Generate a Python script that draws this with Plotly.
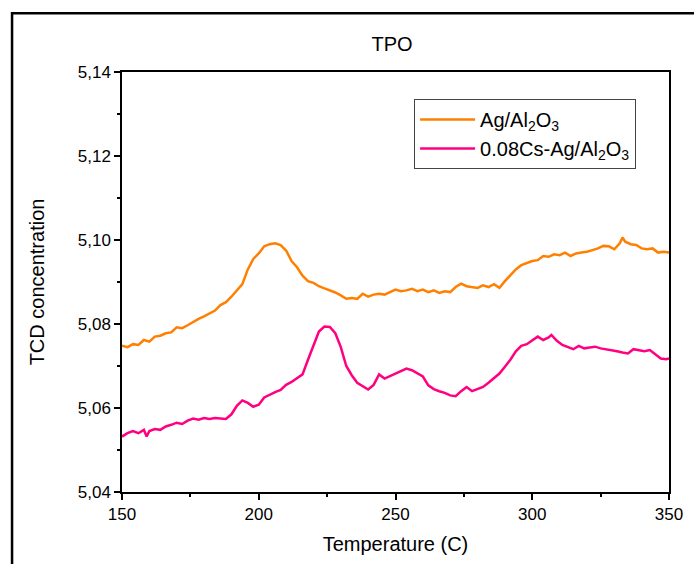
import plotly.graph_objects as go

temp_ag = [150,152,154,156,158,160,162,164,166,168,170,172,174,176,178,180,182,184,186,188,
           190,192,194,196,198,200,202,204,206,208,210,212,214,216,218,220,222,224,226,228,
           230,232,234,236,238,240,242,244,246,248,250,252,254,256,258,260,262,264,266,268,
           270,272,274,276,278,280,282,284,286,288,290,292,294,296,298,300,302,304,306,308,
           310,312,314,316,318,320,322,324,326,328,330,332,333,334,336,338,340,342,344,346,
           348,350]
tcd_ag = [5.0748,5.0745,5.0752,5.0750,5.0762,5.0758,5.0770,5.0772,5.0778,5.0780,
          5.0792,5.0790,5.0797,5.0805,5.0812,5.0818,5.0826,5.0832,5.0845,5.0852,
          5.0865,5.0880,5.0895,5.0930,5.0955,5.0968,5.0985,5.0990,5.0992,5.0988,
          5.0975,5.0950,5.0935,5.0915,5.0902,5.0898,5.0890,5.0885,5.0880,5.0875,
          5.0868,5.0860,5.0862,5.0860,5.0872,5.0865,5.0870,5.0872,5.0870,5.0876,
          5.0882,5.0878,5.0880,5.0884,5.0878,5.0882,5.0876,5.0880,5.0874,5.0878,
          5.0876,5.0888,5.0896,5.0890,5.0888,5.0886,5.0892,5.0888,5.0895,5.0886,
          5.0902,5.0915,5.0930,5.0940,5.0945,5.0950,5.0952,5.0962,5.0960,5.0966,
          5.0964,5.0970,5.0962,5.0968,5.0970,5.0972,5.0976,5.0980,5.0986,5.0985,
          5.0978,5.0992,5.1006,5.0996,5.0990,5.0988,5.0980,5.0978,5.0980,5.0970,
          5.0972,5.0970]

temp_cs = [150,152,154,156,158,159,160,162,164,166,168,170,172,174,176,178,180,182,184,186,
           188,190,192,194,196,198,200,202,204,206,208,210,212,214,216,218,220,222,224,226,
           228,230,232,234,236,238,240,242,244,246,248,250,252,254,256,258,260,262,264,266,
           268,270,272,274,276,278,280,282,284,286,288,290,292,294,296,298,300,302,304,306,
           307,309,311,313,315,317,319,321,323,325,327,329,331,333,335,337,339,341,343,345,
           347,349,350]
tcd_cs = [5.0532,5.0540,5.0545,5.0540,5.0548,5.0532,5.0545,5.0550,5.0548,5.0556,
          5.0560,5.0565,5.0562,5.0570,5.0575,5.0572,5.0576,5.0574,5.0576,5.0575,
          5.0574,5.0585,5.0605,5.0618,5.0612,5.0603,5.0608,5.0625,5.0632,5.0638,
          5.0643,5.0655,5.0662,5.0670,5.0680,5.0715,5.0748,5.0782,5.0794,5.0793,
          5.0778,5.0745,5.0700,5.0678,5.0660,5.0652,5.0644,5.0655,5.0680,5.0670,
          5.0676,5.0682,5.0688,5.0694,5.0690,5.0682,5.0675,5.0654,5.0645,5.0640,
          5.0636,5.0630,5.0628,5.0640,5.0650,5.0640,5.0645,5.0650,5.0660,5.0672,
          5.0682,5.0698,5.0715,5.0735,5.0748,5.0752,5.0760,5.0770,5.0762,5.0768,
          5.0774,5.0760,5.0750,5.0745,5.0740,5.0748,5.0742,5.0744,5.0746,5.0742,
          5.0740,5.0738,5.0735,5.0732,5.0730,5.0740,5.0738,5.0735,5.0738,5.0728,
          5.0718,5.0716,5.0718]

names = ["Ag/Al<sub>2</sub>O<sub>3</sub>", "0.08Cs-Ag/Al<sub>2</sub>O<sub>3</sub>"]
colors = ["#FF8000", "#FF0080"]

FONT = "Liberation Sans, Arial, sans-serif"

fig = go.Figure()
fig.add_trace(go.Scatter(x=temp_ag, y=tcd_ag, mode="lines", name=names[0],
                         line=dict(color=colors[0], width=2.5)))
fig.add_trace(go.Scatter(x=temp_cs, y=tcd_cs, mode="lines", name=names[1],
                         line=dict(color=colors[1], width=2.5)))

axis_common = dict(showline=True, linecolor="black", linewidth=1.5, mirror=True,
                   ticks="outside", ticklen=6, tickwidth=1.5, tickcolor="black",
                   showgrid=False, zeroline=False,
                   tickfont=dict(family=FONT, size=17, color="black"))

fig.update_xaxes(range=[150, 350], tickvals=[150, 200, 250, 300, 350],
                 minor=dict(ticks="outside", ticklen=3, tickwidth=1.5, tickcolor="black", dtick=25, tick0=150),
                 title=dict(text="Temperature (C)", font=dict(family=FONT, size=20, color="black"), standoff=14),
                 **axis_common)
fig.update_yaxes(range=[5.04, 5.14], tickvals=[5.04, 5.06, 5.08, 5.10, 5.12, 5.14], tickformat=".2f",
                 minor=dict(ticks="outside", ticklen=3, tickwidth=1.5, tickcolor="black", dtick=0.01, tick0=5.04),
                 title=dict(text="TCD concentration", font=dict(family=FONT, size=20, color="black"), standoff=28),
                 **axis_common)

fig.add_shape(type="rect", xref="paper", yref="paper",
              x0=-0.201, x1=1.06, y0=-0.2, y1=1.140,
              line=dict(color="black", width=2.5), fillcolor="rgba(0,0,0,0)", layer="above")

fig.update_layout(
    width=694, height=564,
    margin=dict(l=122, r=25, t=72, b=72),
    paper_bgcolor="white", plot_bgcolor="white",
    separators=", ",
    title=dict(text="TPO", x=392 / 694, xanchor="center", y=1 - 44 / 564, yanchor="middle",
               font=dict(family=FONT, size=20, color="black")),
    legend=dict(x=0.534, y=0.936, xanchor="left", yanchor="top",
                bordercolor="#444", borderwidth=1, bgcolor="white",
                font=dict(family=FONT, size=20, color="black"),
                itemwidth=55, tracegroupgap=5),
    showlegend=True,
)

fig.write_html("out.html")
